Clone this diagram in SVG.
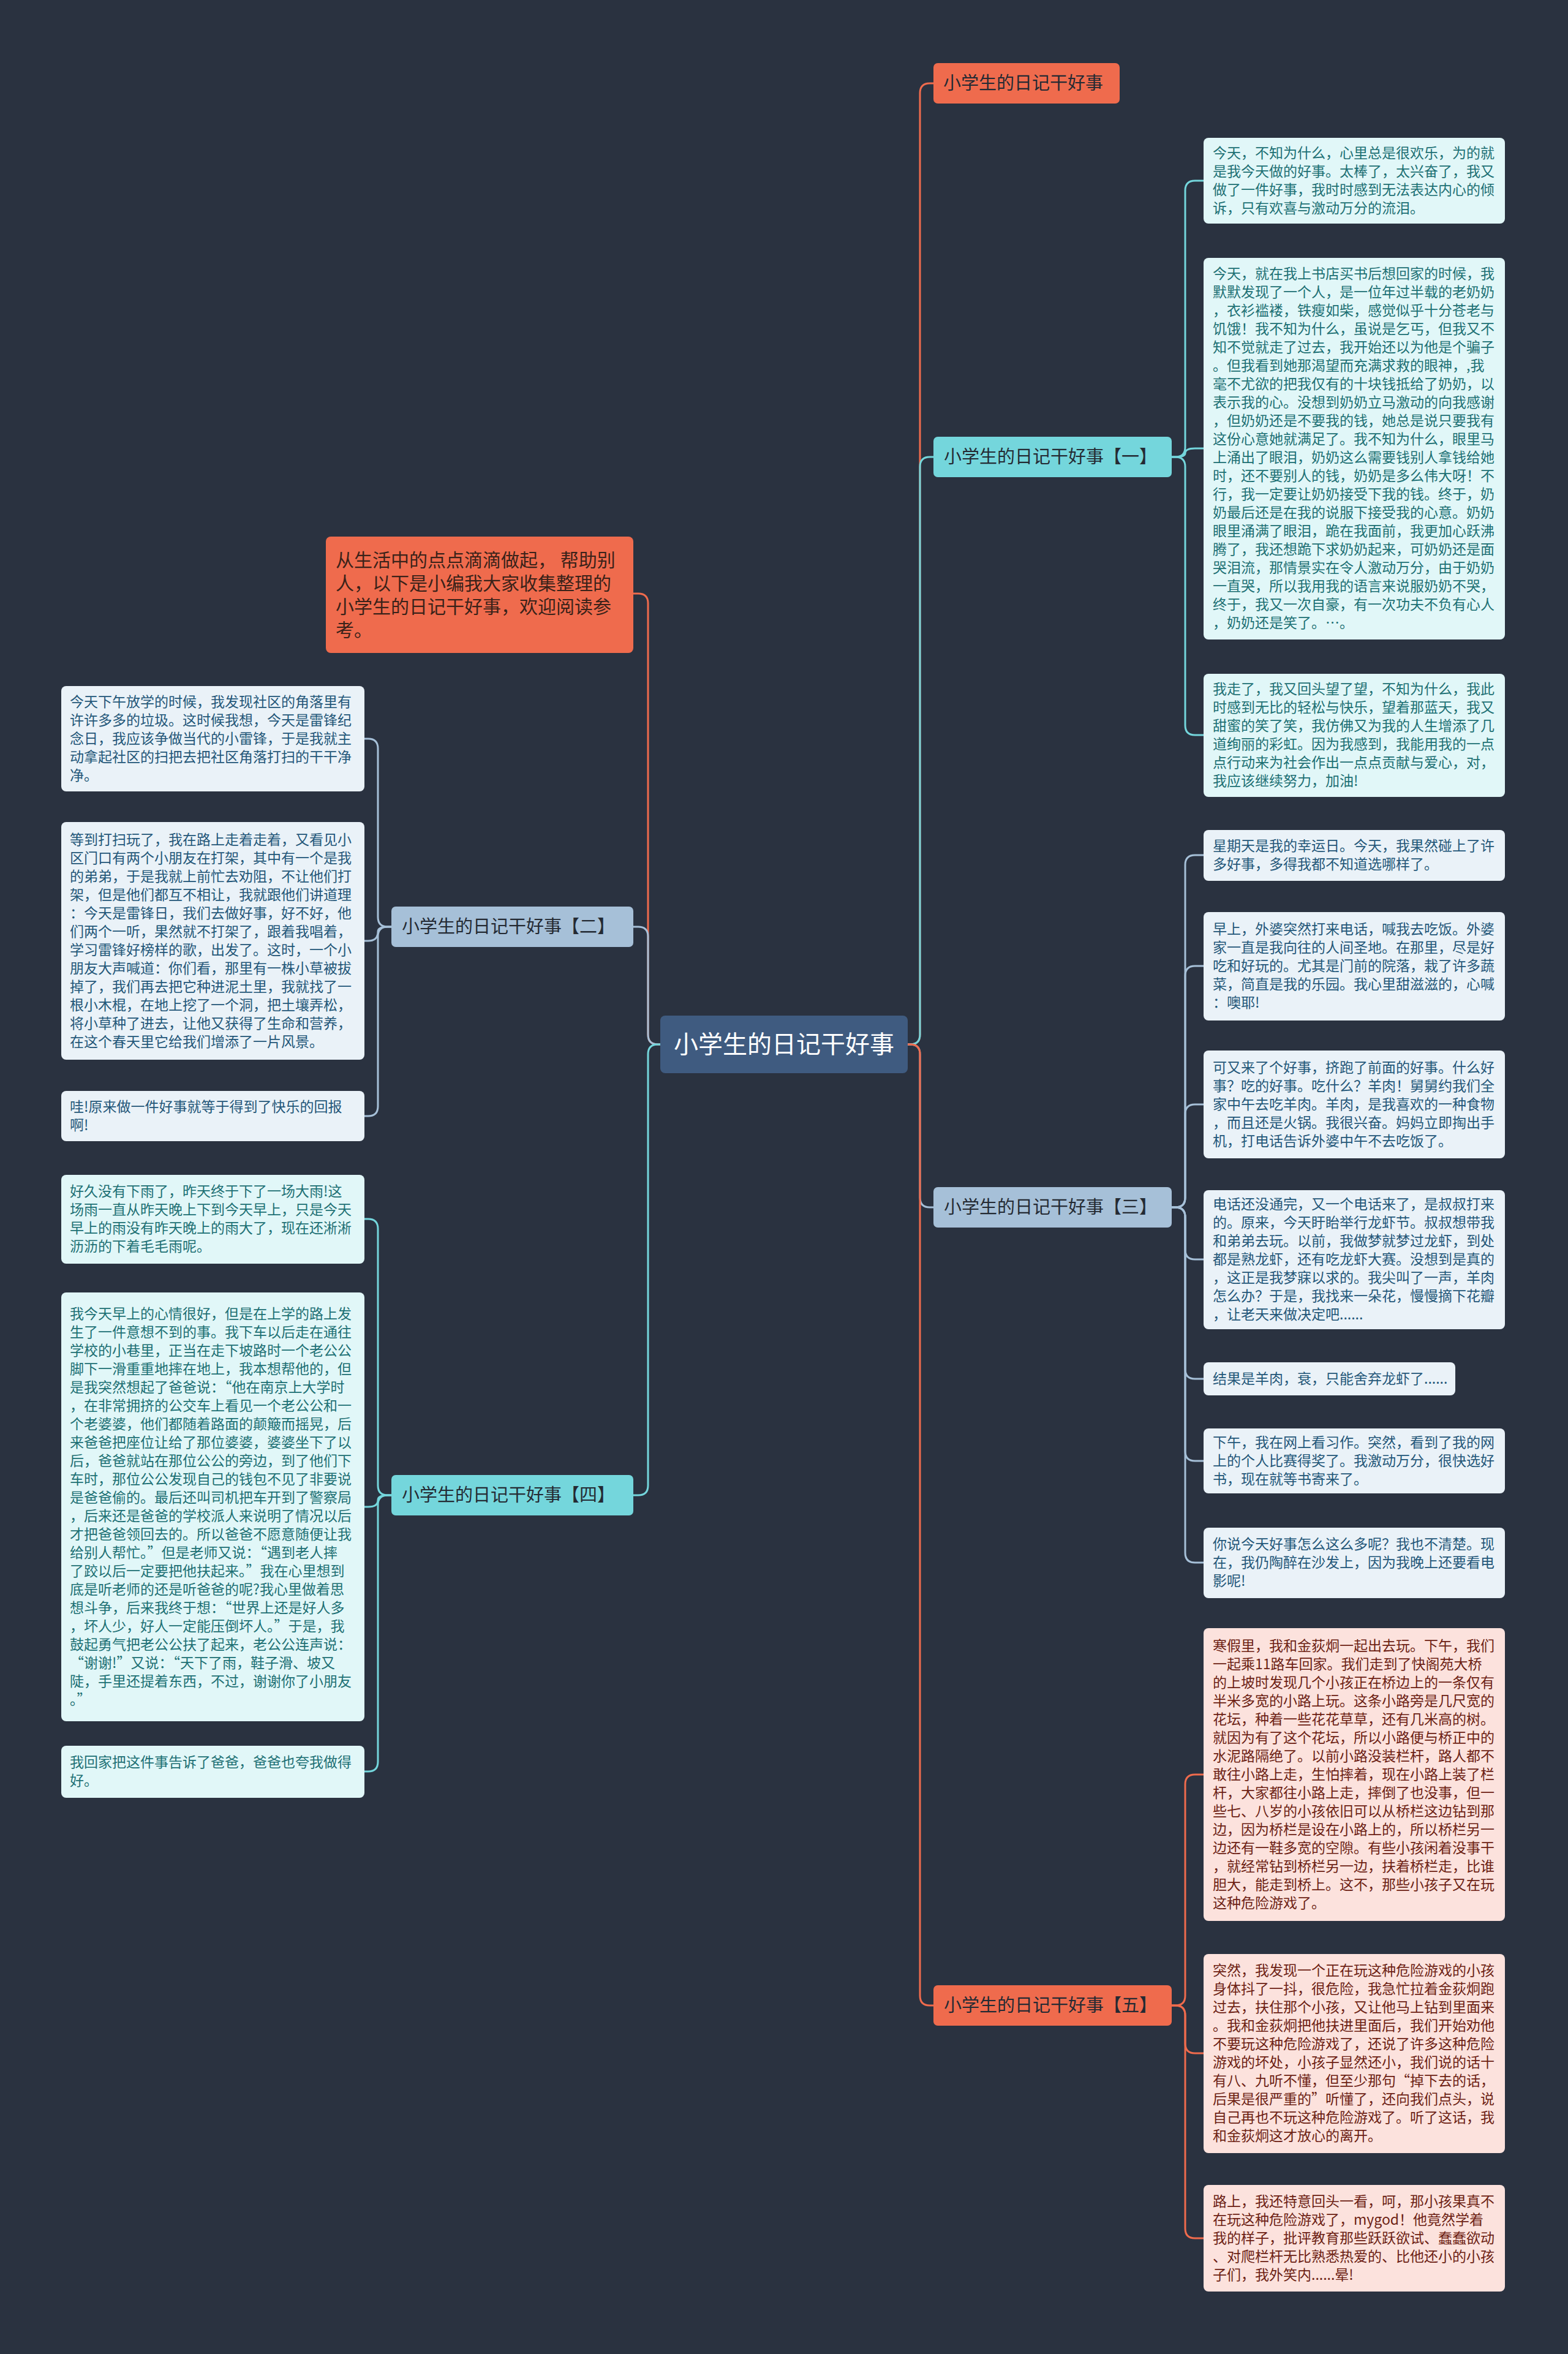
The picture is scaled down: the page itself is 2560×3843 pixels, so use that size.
<svg xmlns="http://www.w3.org/2000/svg" width="2560" height="3843" viewBox="0 0 2560 3843">
<style>
text{font-family:"Noto Sans CJK SC","Noto Sans",sans-serif}
.t{font-size:23px}
.lc{fill:#e1f7f8}.tc{fill:#1d7074}
.lb{fill:#eaf2f8}.tb{fill:#245779}
.lo{fill:#fce2dd}.to{fill:#6d1f14}
.bo{fill:#ef6b4d}.bc{fill:#74d6dc}.bb{fill:#a6c0d8}
.bt{font-size:29px;fill:#242a33}
.k{fill:none;stroke-width:3}
.ko{stroke:#ef6b4d}.kc{stroke:#74d6dc}.kb{stroke:#a6c0d8}
</style>
<rect width="2560" height="3843" fill="#2a3240"/>
<g id="connectors">
<path class="k ko" d="M1482,1705 H1486 Q1502,1705 1502,1689 V152 Q1502,136 1518,136 H1524"/>
<path class="k kc" d="M1482,1705 H1486 Q1502,1705 1502,1689 V762 Q1502,746 1518,746 H1524"/>
<path class="k kb" d="M1482,1705 H1486 Q1502,1705 1502,1721 V1955 Q1502,1971 1518,1971 H1524"/>
<path class="k ko" d="M1482,1705 H1486 Q1502,1705 1502,1721 V3258 Q1502,3274 1518,3274 H1524"/>
<path class="k ko" d="M1078,1705 H1074 Q1058,1705 1058,1689 V985 Q1058,969 1042,969 H1034"/>
<path class="k kb" d="M1078,1705 H1074 Q1058,1705 1058,1689 V1529 Q1058,1513 1042,1513 H1034"/>
<path class="k kc" d="M1078,1705 H1074 Q1058,1705 1058,1721 V2425 Q1058,2441 1042,2441 H1034"/>
<path class="k kc" d="M1913,746 H1919 Q1935,746 1935,730 V311 Q1935,295 1951,295 H1965"/>
<path class="k kc" d="M1913,746 H1919 Q1935,746 1935,740 Q1935,732 1951,732 H1965"/>
<path class="k kc" d="M1913,746 H1919 Q1935,746 1935,762 V1184 Q1935,1200 1951,1200 H1965"/>
<path class="k kb" d="M1913,1971 H1919 Q1935,1971 1935,1955 V1412 Q1935,1396 1951,1396 H1965"/>
<path class="k kb" d="M1913,1971 H1919 Q1935,1971 1935,1955 V1593 Q1935,1577 1951,1577 H1965"/>
<path class="k kb" d="M1913,1971 H1919 Q1935,1971 1935,1955 V1819 Q1935,1803 1951,1803 H1965"/>
<path class="k kb" d="M1913,1971 H1919 Q1935,1971 1935,1987 V2040 Q1935,2056 1951,2056 H1965"/>
<path class="k kb" d="M1913,1971 H1919 Q1935,1971 1935,1987 V2235 Q1935,2251 1951,2251 H1965"/>
<path class="k kb" d="M1913,1971 H1919 Q1935,1971 1935,1987 V2369 Q1935,2385 1951,2385 H1965"/>
<path class="k kb" d="M1913,1971 H1919 Q1935,1971 1935,1987 V2535 Q1935,2551 1951,2551 H1965"/>
<path class="k ko" d="M1913,3274 H1919 Q1935,3274 1935,3258 V2913 Q1935,2897 1951,2897 H1965"/>
<path class="k ko" d="M1913,3274 H1919 Q1935,3274 1935,3290 V3336 Q1935,3352 1951,3352 H1965"/>
<path class="k ko" d="M1913,3274 H1919 Q1935,3274 1935,3290 V3638 Q1935,3654 1951,3654 H1965"/>
<path class="k kb" d="M639,1513 H633 Q617,1513 617,1497 V1222 Q617,1206 601,1206 H595"/>
<path class="k kb" d="M639,1513 H633 Q617,1513 617,1521 Q617,1536 601,1536 H595"/>
<path class="k kb" d="M639,1513 H633 Q617,1513 617,1529 V1806 Q617,1822 601,1822 H595"/>
<path class="k kc" d="M639,2441 H633 Q617,2441 617,2425 V2006 Q617,1990 601,1990 H595"/>
<path class="k kc" d="M639,2441 H633 Q617,2441 617,2449 Q617,2460 601,2460 H595"/>
<path class="k kc" d="M639,2441 H633 Q617,2441 617,2457 V2876 Q617,2892 601,2892 H595"/>
</g>
<g id="center">
<rect x="1078" y="1658" width="404" height="94" rx="8" fill="#3f5b80"/>
<text x="1280" y="1719" text-anchor="middle" style="font-size:40px;fill:#ffffff">小学生的日记干好事</text>
</g>
<g id="b-top"><rect class="bo" x="1524" y="103" width="304" height="66" rx="7"/><text class="bt" x="1540" y="146">小学生的日记干好事</text></g>
<g id="b-1"><rect class="bc" x="1524" y="713" width="389" height="66" rx="7"/><text class="bt" x="1541" y="756">小学生的日记干好事【一】</text></g>
<g id="b-3"><rect class="bb" x="1524" y="1938" width="389" height="66" rx="7"/><text class="bt" x="1541" y="1981">小学生的日记干好事【三】</text></g>
<g id="b-5"><rect class="bo" x="1524" y="3241" width="389" height="66" rx="7"/><text class="bt" x="1541" y="3284">小学生的日记干好事【五】</text></g>
<g id="b-2"><rect class="bb" x="639" y="1480" width="395" height="66" rx="7"/><text class="bt" x="656" y="1523">小学生的日记干好事【二】</text></g>
<g id="b-4"><rect class="bc" x="639" y="2408" width="395" height="66" rx="7"/><text class="bt" x="656" y="2451">小学生的日记干好事【四】</text></g>
<g id="intro"><rect class="bo" x="532" y="876" width="502" height="190" rx="8"/>
<text style="font-size:30px;fill:#3a2219"><tspan x="548" y="925">从生活中的点点滴滴做起， 帮助别</tspan><tspan x="548" dy="38">人，以下是小编我大家收集整理的</tspan><tspan x="548" dy="38">小学生的日记干好事，欢迎阅读参</tspan><tspan x="548" dy="38">考。</tspan></text></g>

<g id="n1-1"><rect class="lc" x="1965" y="225" width="492" height="140" rx="8"/>
<text class="t tc"><tspan x="1980" y="258">今天，不知为什么，心里总是很欢乐，为的就</tspan><tspan x="1980" dy="30">是我今天做的好事。太棒了，太兴奋了，我又</tspan><tspan x="1980" dy="30">做了一件好事，我时时感到无法表达内心的倾</tspan><tspan x="1980" dy="30">诉，只有欢喜与激动万分的流泪。</tspan></text></g>

<g id="n1-2"><rect class="lc" x="1965" y="421" width="492" height="623" rx="8"/>
<text class="t tc"><tspan x="1980" y="455">今天，就在我上书店买书后想回家的时候，我</tspan><tspan x="1980" dy="30">默默发现了一个人，是一位年过半载的老奶奶</tspan><tspan x="1980" dy="30">，衣衫褴褛，铁瘦如柴，感觉似乎十分苍老与</tspan><tspan x="1980" dy="30">饥饿！我不知为什么，虽说是乞丐，但我又不</tspan><tspan x="1980" dy="30">知不觉就走了过去，我开始还以为他是个骗子</tspan><tspan x="1980" dy="30">。但我看到她那渴望而充满求救的眼神，,我</tspan><tspan x="1980" dy="30">毫不尤欲的把我仅有的十块钱抵给了奶奶，以</tspan><tspan x="1980" dy="30">表示我的心。没想到奶奶立马激动的向我感谢</tspan><tspan x="1980" dy="30">，但奶奶还是不要我的钱，她总是说只要我有</tspan><tspan x="1980" dy="30">这份心意她就满足了。我不知为什么，眼里马</tspan><tspan x="1980" dy="30">上涌出了眼泪，奶奶这么需要钱别人拿钱给她</tspan><tspan x="1980" dy="30">时，还不要别人的钱，奶奶是多么伟大呀！不</tspan><tspan x="1980" dy="30">行，我一定要让奶奶接受下我的钱。终于，奶</tspan><tspan x="1980" dy="30">奶最后还是在我的说服下接受我的心意。奶奶</tspan><tspan x="1980" dy="30">眼里涌满了眼泪，跪在我面前，我更加心跃沸</tspan><tspan x="1980" dy="30">腾了，我还想跪下求奶奶起来，可奶奶还是面</tspan><tspan x="1980" dy="30">哭泪流，那情景实在令人激动万分，由于奶奶</tspan><tspan x="1980" dy="30">一直哭，所以我用我的语言来说服奶奶不哭，</tspan><tspan x="1980" dy="30">终于，我又一次自豪，有一次功夫不负有心人</tspan><tspan x="1980" dy="30">，奶奶还是笑了。…。</tspan></text></g>

<g id="n1-3"><rect class="lc" x="1965" y="1100" width="492" height="201" rx="8"/>
<text class="t tc"><tspan x="1980" y="1133">我走了，我又回头望了望，不知为什么，我此</tspan><tspan x="1980" dy="30">时感到无比的轻松与快乐，望着那蓝天，我又</tspan><tspan x="1980" dy="30">甜蜜的笑了笑，我仿佛又为我的人生增添了几</tspan><tspan x="1980" dy="30">道绚丽的彩虹。因为我感到，我能用我的一点</tspan><tspan x="1980" dy="30">点行动来为社会作出一点点贡献与爱心，对，</tspan><tspan x="1980" dy="30">我应该继续努力，加油!</tspan></text></g>

<g id="n3-1"><rect class="lb" x="1965" y="1355" width="492" height="83" rx="8"/>
<text class="t tb"><tspan x="1980" y="1389">星期天是我的幸运日。今天，我果然碰上了许</tspan><tspan x="1980" dy="30">多好事，多得我都不知道选哪样了。</tspan></text></g>

<g id="n3-2"><rect class="lb" x="1965" y="1489" width="492" height="177" rx="8"/>
<text class="t tb"><tspan x="1980" y="1525">早上，外婆突然打来电话，喊我去吃饭。外婆</tspan><tspan x="1980" dy="30">家一直是我向往的人间圣地。在那里，尽是好</tspan><tspan x="1980" dy="30">吃和好玩的。尤其是门前的院落，栽了许多蔬</tspan><tspan x="1980" dy="30">菜，简直是我的乐园。我心里甜滋滋的，心喊</tspan><tspan x="1980" dy="30">：噢耶!</tspan></text></g>

<g id="n3-3"><rect class="lb" x="1965" y="1715" width="492" height="176" rx="8"/>
<text class="t tb"><tspan x="1980" y="1751">可又来了个好事，挤跑了前面的好事。什么好</tspan><tspan x="1980" dy="30">事？吃的好事。吃什么？羊肉！舅舅约我们全</tspan><tspan x="1980" dy="30">家中午去吃羊肉。羊肉，是我喜欢的一种食物</tspan><tspan x="1980" dy="30">，而且还是火锅。我很兴奋。妈妈立即掏出手</tspan><tspan x="1980" dy="30">机，打电话告诉外婆中午不去吃饭了。</tspan></text></g>

<g id="n3-4"><rect class="lb" x="1965" y="1943" width="492" height="227" rx="8"/>
<text class="t tb"><tspan x="1980" y="1974">电话还没通完，又一个电话来了，是叔叔打来</tspan><tspan x="1980" dy="30">的。原来，今天盱眙举行龙虾节。叔叔想带我</tspan><tspan x="1980" dy="30">和弟弟去玩。以前，我做梦就梦过龙虾，到处</tspan><tspan x="1980" dy="30">都是熟龙虾，还有吃龙虾大赛。没想到是真的</tspan><tspan x="1980" dy="30">，这正是我梦寐以求的。我尖叫了一声，羊肉</tspan><tspan x="1980" dy="30">怎么办？于是，我找来一朵花，慢慢摘下花瓣</tspan><tspan x="1980" dy="30">，让老天来做决定吧......</tspan></text></g>

<g id="n3-5"><rect class="lb" x="1965" y="2224" width="411" height="54" rx="8"/>
<text class="t tb" x="1980" y="2259">结果是羊肉，衰，只能舍弃龙虾了......</text></g>

<g id="n3-6"><rect class="lb" x="1965" y="2332" width="492" height="106" rx="8"/>
<text class="t tb"><tspan x="1980" y="2363">下午，我在网上看习作。突然，看到了我的网</tspan><tspan x="1980" dy="30">上的个人比赛得奖了。我激动万分，很快选好</tspan><tspan x="1980" dy="30">书，现在就等书寄来了。</tspan></text></g>

<g id="n3-7"><rect class="lb" x="1965" y="2494" width="492" height="115" rx="8"/>
<text class="t tb"><tspan x="1980" y="2529">你说今天好事怎么这么多呢？我也不清楚。现</tspan><tspan x="1980" dy="30">在，我仍陶醉在沙发上，因为我晚上还要看电</tspan><tspan x="1980" dy="30">影呢!</tspan></text></g>

<g id="n5-1"><rect class="lo" x="1965" y="2658" width="492" height="478" rx="8"/>
<text class="t to"><tspan x="1980" y="2695">寒假里，我和金荻炯一起出去玩。下午，我们</tspan><tspan x="1980" dy="30">一起乘11路车回家。我们走到了快阁苑大桥</tspan><tspan x="1980" dy="30">的上坡时发现几个小孩正在桥边上的一条仅有</tspan><tspan x="1980" dy="30">半米多宽的小路上玩。这条小路旁是几尺宽的</tspan><tspan x="1980" dy="30">花坛，种着一些花花草草，还有几米高的树。</tspan><tspan x="1980" dy="30">就因为有了这个花坛，所以小路便与桥正中的</tspan><tspan x="1980" dy="30">水泥路隔绝了。以前小路没装栏杆，路人都不</tspan><tspan x="1980" dy="30">敢往小路上走，生怕摔着，现在小路上装了栏</tspan><tspan x="1980" dy="30">杆，大家都往小路上走，摔倒了也没事，但一</tspan><tspan x="1980" dy="30">些七、八岁的小孩依旧可以从桥栏这边钻到那</tspan><tspan x="1980" dy="30">边，因为桥栏是设在小路上的，所以桥栏另一</tspan><tspan x="1980" dy="30">边还有一鞋多宽的空隙。有些小孩闲着没事干</tspan><tspan x="1980" dy="30">，就经常钻到桥栏另一边，扶着桥栏走，比谁</tspan><tspan x="1980" dy="30">胆大，能走到桥上。这不，那些小孩子又在玩</tspan><tspan x="1980" dy="30">这种危险游戏了。</tspan></text></g>

<g id="n5-2"><rect class="lo" x="1965" y="3190" width="492" height="325" rx="8"/>
<text class="t to"><tspan x="1980" y="3225">突然，我发现一个正在玩这种危险游戏的小孩</tspan><tspan x="1980" dy="30">身体抖了一抖，很危险，我急忙拉着金荻炯跑</tspan><tspan x="1980" dy="30">过去，扶住那个小孩，又让他马上钻到里面来</tspan><tspan x="1980" dy="30">。我和金荻炯把他扶进里面后，我们开始劝他</tspan><tspan x="1980" dy="30">不要玩这种危险游戏了，还说了许多这种危险</tspan><tspan x="1980" dy="30">游戏的坏处，小孩子显然还小，我们说的话十</tspan><tspan x="1980" dy="30">有八、九听不懂，但至少那句“掉下去的话，</tspan><tspan x="1980" dy="30">后果是很严重的”听懂了，还向我们点头，说</tspan><tspan x="1980" dy="30">自己再也不玩这种危险游戏了。听了这话，我</tspan><tspan x="1980" dy="30">和金荻炯这才放心的离开。</tspan></text></g>

<g id="n5-3"><rect class="lo" x="1965" y="3567" width="492" height="174" rx="8"/>
<text class="t to"><tspan x="1980" y="3602">路上，我还特意回头一看，呵，那小孩果真不</tspan><tspan x="1980" dy="30">在玩这种危险游戏了，mygod！他竟然学着</tspan><tspan x="1980" dy="30">我的样子，批评教育那些跃跃欲试、蠢蠢欲动</tspan><tspan x="1980" dy="30">、对爬栏杆无比熟悉热爱的、比他还小的小孩</tspan><tspan x="1980" dy="30">子们，我外笑内......晕!</tspan></text></g>

<g id="n2-1"><rect class="lb" x="100" y="1120" width="495" height="172" rx="8"/>
<text class="t tb"><tspan x="114" y="1154">今天下午放学的时候，我发现社区的角落里有</tspan><tspan x="114" dy="30">许许多多的垃圾。这时候我想，今天是雷锋纪</tspan><tspan x="114" dy="30">念日，我应该争做当代的小雷锋，于是我就主</tspan><tspan x="114" dy="30">动拿起社区的扫把去把社区角落打扫的干干净</tspan><tspan x="114" dy="30">净。</tspan></text></g>

<g id="n2-2"><rect class="lb" x="100" y="1342" width="495" height="388" rx="8"/>
<text class="t tb"><tspan x="114" y="1379">等到打扫玩了，我在路上走着走着，又看见小</tspan><tspan x="114" dy="30">区门口有两个小朋友在打架，其中有一个是我</tspan><tspan x="114" dy="30">的弟弟，于是我就上前忙去劝阻，不让他们打</tspan><tspan x="114" dy="30">架，但是他们都互不相让，我就跟他们讲道理</tspan><tspan x="114" dy="30">：今天是雷锋日，我们去做好事，好不好，他</tspan><tspan x="114" dy="30">们两个一听，果然就不打架了，跟着我唱着，</tspan><tspan x="114" dy="30">学习雷锋好榜样的歌，出发了。这时，一个小</tspan><tspan x="114" dy="30">朋友大声喊道：你们看，那里有一株小草被拔</tspan><tspan x="114" dy="30">掉了，我们再去把它种进泥土里，我就找了一</tspan><tspan x="114" dy="30">根小木棍，在地上挖了一个洞，把土壤弄松，</tspan><tspan x="114" dy="30">将小草种了进去，让他又获得了生命和营养，</tspan><tspan x="114" dy="30">在这个春天里它给我们增添了一片风景。</tspan></text></g>

<g id="n2-3"><rect class="lb" x="100" y="1781" width="495" height="82" rx="8"/>
<text class="t tb"><tspan x="114" y="1815">哇!原来做一件好事就等于得到了快乐的回报</tspan><tspan x="114" dy="30">啊!</tspan></text></g>

<g id="n4-1"><rect class="lc" x="100" y="1918" width="495" height="145" rx="8"/>
<text class="t tc"><tspan x="114" y="1953">好久没有下雨了，昨天终于下了一场大雨!这</tspan><tspan x="114" dy="30">场雨一直从昨天晚上下到今天早上，只是今天</tspan><tspan x="114" dy="30">早上的雨没有昨天晚上的雨大了，现在还淅淅</tspan><tspan x="114" dy="30">沥沥的下着毛毛雨呢。</tspan></text></g>

<g id="n4-2"><rect class="lc" x="100" y="2110" width="495" height="700" rx="8"/>
<text class="t tc"><tspan x="114" y="2153">我今天早上的心情很好，但是在上学的路上发</tspan><tspan x="114" dy="30">生了一件意想不到的事。我下车以后走在通往</tspan><tspan x="114" dy="30">学校的小巷里，正当在走下坡路时一个老公公</tspan><tspan x="114" dy="30">脚下一滑重重地摔在地上，我本想帮他的，但</tspan><tspan x="114" dy="30">是我突然想起了爸爸说：“他在南京上大学时</tspan><tspan x="114" dy="30">，在非常拥挤的公交车上看见一个老公公和一</tspan><tspan x="114" dy="30">个老婆婆，他们都随着路面的颠簸而摇晃，后</tspan><tspan x="114" dy="30">来爸爸把座位让给了那位婆婆，婆婆坐下了以</tspan><tspan x="114" dy="30">后，爸爸就站在那位公公的旁边，到了他们下</tspan><tspan x="114" dy="30">车时，那位公公发现自己的钱包不见了非要说</tspan><tspan x="114" dy="30">是爸爸偷的。最后还叫司机把车开到了警察局</tspan><tspan x="114" dy="30">，后来还是爸爸的学校派人来说明了情况以后</tspan><tspan x="114" dy="30">才把爸爸领回去的。所以爸爸不愿意随便让我</tspan><tspan x="114" dy="30">给别人帮忙。”但是老师又说：“遇到老人摔</tspan><tspan x="114" dy="30">了跤以后一定要把他扶起来。”我在心里想到</tspan><tspan x="114" dy="30">底是听老师的还是听爸爸的呢?我心里做着思</tspan><tspan x="114" dy="30">想斗争，后来我终于想：“世界上还是好人多</tspan><tspan x="114" dy="30">，坏人少，好人一定能压倒坏人。”于是，我</tspan><tspan x="114" dy="30">鼓起勇气把老公公扶了起来，老公公连声说：</tspan><tspan x="114" dy="30">“谢谢!”又说：“天下了雨，鞋子滑、坡又</tspan><tspan x="114" dy="30">陡，手里还提着东西，不过，谢谢你了小朋友</tspan><tspan x="114" dy="30">。”</tspan></text></g>

<g id="n4-3"><rect class="lc" x="100" y="2850" width="495" height="85" rx="8"/>
<text class="t tc"><tspan x="114" y="2885">我回家把这件事告诉了爸爸，爸爸也夸我做得</tspan><tspan x="114" dy="30">好。</tspan></text></g>
</svg>
